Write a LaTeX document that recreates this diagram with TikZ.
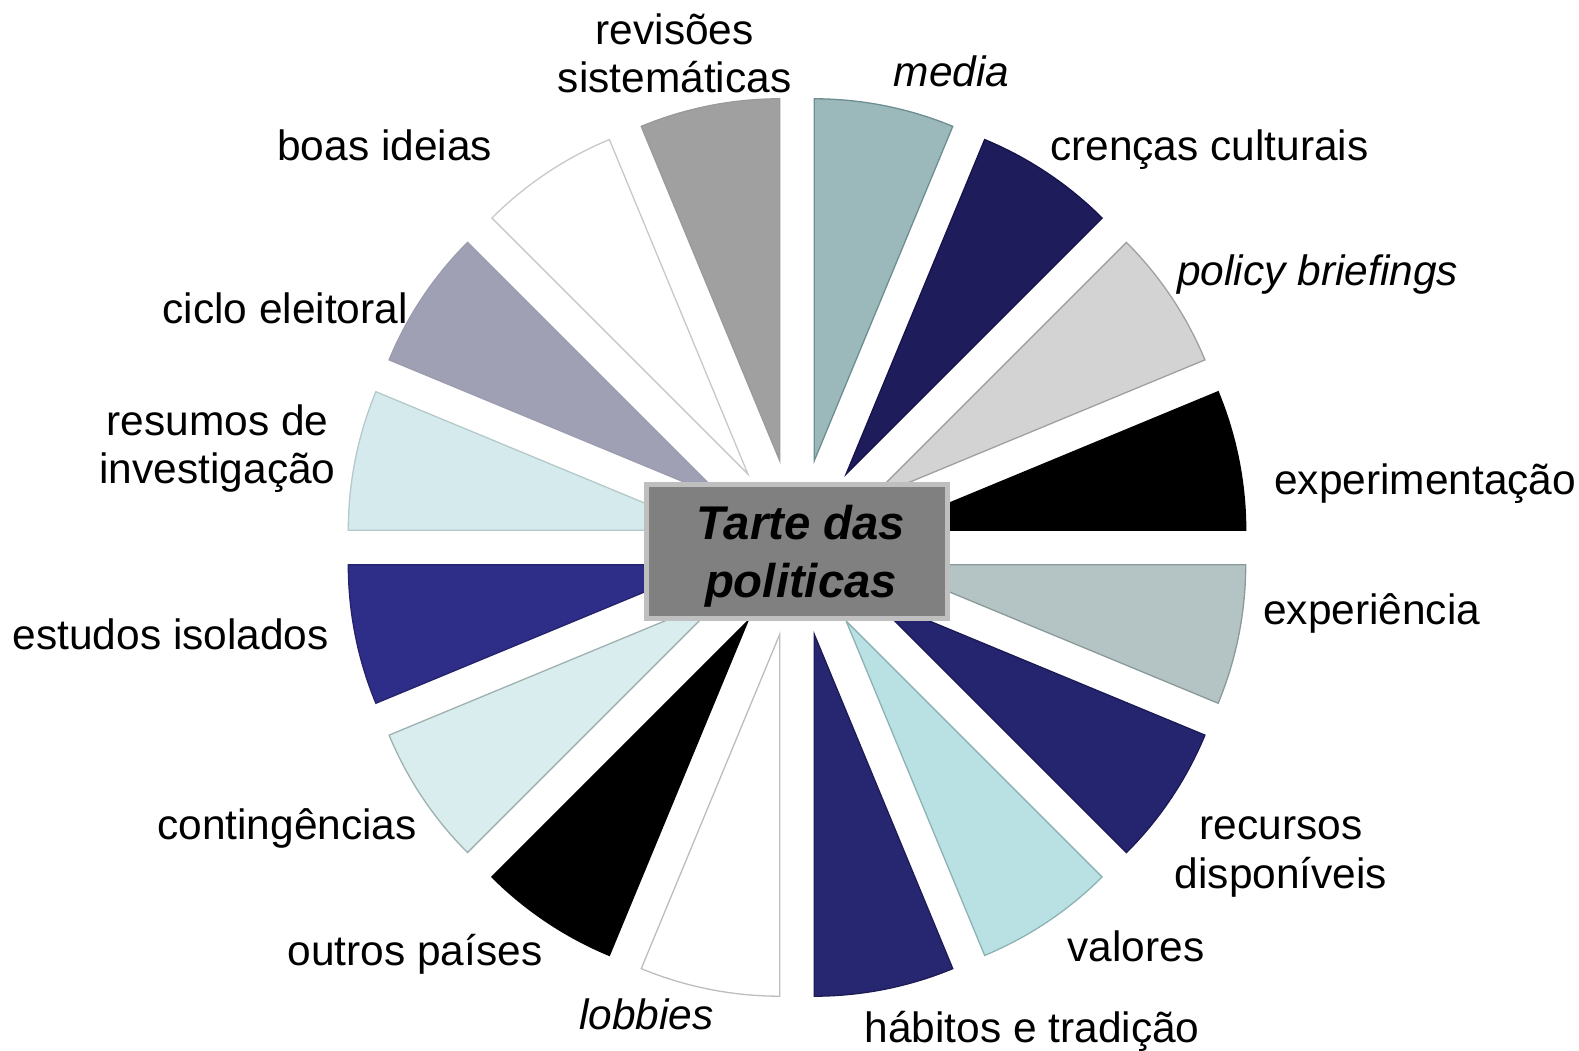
\documentclass[tikz,border=0pt]{standalone}
\usepackage{fontspec}
\setmainfont{Liberation Sans}
\usetikzlibrary{calc}
\definecolor{fA}{HTML}{000000}\definecolor{dA}{HTML}{000000}
\definecolor{fB}{HTML}{D3D3D3}\definecolor{dB}{HTML}{A0A0A0}
\definecolor{fC}{HTML}{1F1C5C}\definecolor{dC}{HTML}{15134A}
\definecolor{fD}{HTML}{9BB8BA}\definecolor{dD}{HTML}{6F8E90}
\definecolor{fE}{HTML}{A0A0A0}\definecolor{dE}{HTML}{9A9A9A}
\definecolor{fF}{HTML}{FFFFFF}\definecolor{dF}{HTML}{C8C8C8}
\definecolor{fG}{HTML}{A0A0B4}\definecolor{dG}{HTML}{9C9CB0}
\definecolor{fH}{HTML}{D5EAEC}\definecolor{dH}{HTML}{B5C9CB}
\definecolor{fI}{HTML}{2E2D88}\definecolor{dI}{HTML}{24236C}
\definecolor{fJ}{HTML}{D9EDEE}\definecolor{dJ}{HTML}{9EB0B0}
\definecolor{fK}{HTML}{000000}\definecolor{dK}{HTML}{000000}
\definecolor{fL}{HTML}{FFFFFF}\definecolor{dL}{HTML}{BDBDBD}
\definecolor{fM}{HTML}{272670}\definecolor{dM}{HTML}{1D1C55}
\definecolor{fN}{HTML}{B9E0E3}\definecolor{dN}{HTML}{8EB2B4}
\definecolor{fO}{HTML}{25246F}\definecolor{dO}{HTML}{1B1A55}
\definecolor{fP}{HTML}{B4C4C4}\definecolor{dP}{HTML}{8A9A9A}
\definecolor{boxfill}{HTML}{808080}
\definecolor{boxline}{HTML}{BFBFBF}
\begin{document}
\begin{tikzpicture}[x=1bp,y=1bp,
  lbl/.style={inner sep=0pt, font=\fontsize{42.6}{48.3}\selectfont, text=black, align=center},
  ilbl/.style={lbl, font=\fontsize{42.6}{48.3}\selectfont\itshape},
  wedge/.style={line width=1.3bp, line join=miter}]
\useasboundingbox (0,0) rectangle (1579,1050);
\coordinate (C) at (797,502.5);
\foreach \k/\fc/\dc in {0/fA/dA,1/fB/dB,2/fC/dC,3/fD/dD,4/fE/dE,5/fF/dF,6/fG/dG,7/fH/dH,8/fI/dI,9/fJ/dJ,10/fK/dK,11/fL/dL,12/fM/dM,13/fN/dN,14/fO/dO,15/fP/dP}{
  \pgfmathsetmacro\aA{22.5*\k}
  \pgfmathsetmacro\aB{22.5*\k+22.5}
  \pgfmathsetmacro\aM{22.5*\k+11.25}
  \filldraw[wedge, fill=\fc, draw=\dc] ($(C)+(\aM:88.4)$) -- ++(\aA:362) arc[start angle=\aA, end angle=\aB, radius=362] -- cycle;
}
\node[draw=boxline, fill=boxfill, line width=5bp, minimum width=301bp, minimum height=134.5bp, inner sep=0pt] (centre) at (797,498.7) {};
\node[inner sep=0pt, align=center, font=\fontsize{47.5}{57.5}\selectfont\bfseries\itshape] (centretitle) at ($(centre.center)+(4,-5)$) {Tarte das\\politicas};
\node[lbl, anchor=base] (rev) at (674.7,957.3) {revisões\\sistemáticas};
\node[ilbl, anchor=base] (media) at (951.6,963.4) {media};
\node[lbl, anchor=base west] (cren) at (1050,889) {crenças culturais};
\node[ilbl, anchor=base west] (pol) at (1177,764) {policy briefings};
\node[lbl, anchor=base west] (expm) at (1274,555) {experimentação};
\node[lbl, anchor=base west] (expc) at (1263,425) {experiência};
\node[lbl, anchor=base] (rec) at (1281,162) {recursos\\disponíveis};
\node[lbl, anchor=base] (val) at (1136,89) {valores};
\node[lbl, anchor=base] (hab) at (1032,8) {hábitos e tradição};
\node[ilbl, anchor=base] (lob) at (646.5,21) {lobbies};
\node[lbl, anchor=base] (out) at (415,85) {outros países};
\node[lbl, anchor=base] (cont) at (287,211) {contingências};
\node[lbl, anchor=base east] (est) at (329,400) {estudos isolados};
\node[lbl, anchor=base] (res) at (217.5,566.6) {resumos de\\investigação};
\node[lbl, anchor=base east] (cic) at (408,726) {ciclo eleitoral};
\node[lbl, anchor=base] (boas) at (384.7,889) {boas ideias};
\end{tikzpicture}
\end{document}
